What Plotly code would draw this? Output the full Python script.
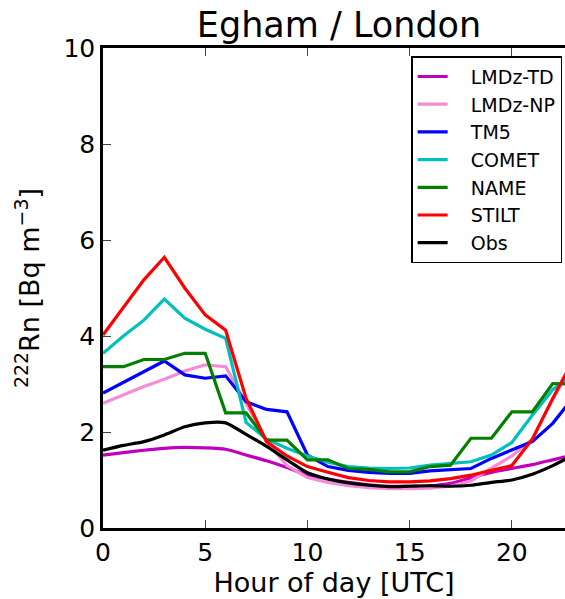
import plotly.graph_objects as go

hours = list(range(24))

lmdz_td = [1.52, 1.57, 1.62, 1.66, 1.68, 1.67, 1.64, 1.52, 1.40, 1.26, 1.10, 1.02,
           0.95, 0.90, 0.87, 0.87, 0.88, 0.93, 1.05, 1.16, 1.24, 1.32, 1.42, 1.52]
lmdz_np = [2.60, 2.78, 2.95, 3.10, 3.27, 3.40, 3.36, 2.60, 1.80, 1.30, 1.05, 0.95,
           0.88, 0.84, 0.82, 0.82, 0.83, 0.87, 0.98, 1.25, 1.50, 1.85, 2.68, 3.45]
tm5 = [2.81, 3.03, 3.25, 3.48, 3.19, 3.12, 3.17, 2.63, 2.47, 2.42, 1.52, 1.28,
       1.20, 1.16, 1.14, 1.14, 1.19, 1.22, 1.24, 1.45, 1.62, 1.80, 2.18, 2.72]
comet = [3.64, 4.00, 4.33, 4.77, 4.37, 4.14, 3.95, 2.20, 1.85, 1.66, 1.50, 1.37,
         1.28, 1.25, 1.24, 1.25, 1.31, 1.35, 1.38, 1.52, 1.78, 2.35, 2.88, 3.20]
name = [3.36, 3.36, 3.51, 3.51, 3.64, 3.64, 2.40, 2.40, 1.83, 1.83, 1.42, 1.42,
        1.24, 1.22, 1.17, 1.17, 1.28, 1.31, 1.87, 1.87, 2.42, 2.42, 3.01, 3.00]
stilt = [4.02, 4.60, 5.17, 5.64, 5.00, 4.44, 4.12, 2.70, 1.80, 1.50, 1.28, 1.16,
         1.05, 0.99, 0.96, 0.96, 0.98, 1.03, 1.10, 1.20, 1.30, 1.85, 2.70, 3.50]
obs = [1.62, 1.72, 1.80, 1.94, 2.11, 2.19, 2.19, 1.95, 1.70, 1.42, 1.15, 1.02,
       0.94, 0.89, 0.86, 0.87, 0.88, 0.87, 0.89, 0.95, 1.00, 1.12, 1.30, 1.52]

series_names = ["LMDz-TD", "LMDz-NP", "TM5", "COMET", "NAME", "STILT", "Obs"]
series_values = [lmdz_td, lmdz_np, tm5, comet, name, stilt, obs]
series_colors = ["#BF00BF", "#F58CD8", "#0000FF", "#00BFBF", "#008000", "#FF0000", "#000000"]
series_shapes = ["spline", "linear", "linear", "linear", "linear", "linear", "spline"]

x_ticks = [0, 5, 10, 15, 20]
y_ticks = [0, 2, 4, 6, 8, 10]

fig = go.Figure()
for n, v, c, s in zip(series_names, series_values, series_colors, series_shapes):
    fig.add_trace(go.Scatter(x=hours, y=v, name="\u00a0\u00a0\u00a0" + n, mode="lines",
                             line=dict(color=c, width=3.2, shape=s, smoothing=0.6)))

font = "DejaVu Sans"
fig.update_layout(
    width=565, height=599,
    margin=dict(l=103, r=0, t=48, b=71),
    paper_bgcolor="white", plot_bgcolor="white",
    font=dict(family=font, color="black", size=25),
    title=dict(text="Egham / London", x=339/565, xanchor="center",
               y=1 - 25/599, yanchor="middle", font=dict(size=35)),
    xaxis=dict(range=[0, 22.6], tickvals=x_ticks, ticks="inside", ticklen=8, tickwidth=1.2,
               showline=True, linewidth=2.5, linecolor="black", showgrid=False, zeroline=False,
               title=dict(text="Hour of day [UTC]", font=dict(size=27), standoff=2),
               tickfont=dict(size=25)),
    xaxis2=dict(range=[0, 22.6], tickvals=x_ticks, ticks="inside", ticklen=8, tickwidth=1.2,
                showline=True, linewidth=2.5, linecolor="black", showgrid=False, zeroline=False,
                overlaying="x", side="top", anchor="y", showticklabels=False),
    yaxis=dict(range=[0, 10], tickvals=y_ticks, ticks="inside", ticklen=8, tickwidth=1.2,
               showline=True, linewidth=2.5, linecolor="black", showgrid=False, zeroline=False,
               title=dict(text="<sup>222</sup>Rn [Bq m<sup>\u22123</sup>]", font=dict(size=27), standoff=16),
               tickfont=dict(size=25)),
    legend=dict(x=0.667, y=0.983, xanchor="left", yanchor="top",
                bgcolor="white", bordercolor="black", borderwidth=1.5,
                font=dict(size=19), tracegroupgap=0, itemwidth=30),
    showlegend=True,
)
# invisible helper so the top axis is rendered
fig.add_trace(go.Scatter(x=[None], y=[None], xaxis="x2", showlegend=False, hoverinfo="skip"))

fig.write_html("out.html", config={"displayModeBar": False},
               post_script="document.body.style.margin='0';document.body.style.overflow='hidden';")
